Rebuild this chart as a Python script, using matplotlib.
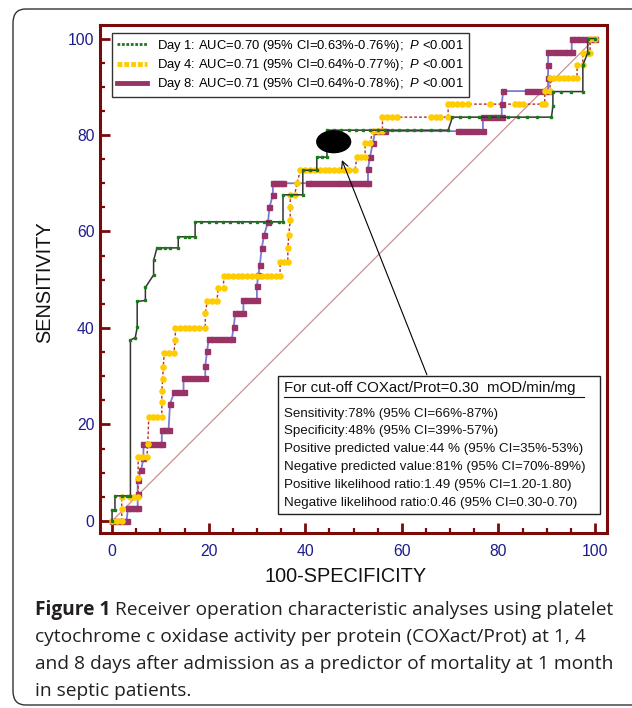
import matplotlib
matplotlib.use("Agg")
import matplotlib.pyplot as plt
from matplotlib.lines import Line2D
from matplotlib.patches import Ellipse, FancyBboxPatch, Rectangle

plt.rcParams['font.family'] = ['Liberation Sans', 'DejaVu Sans']
plt.rcParams['mathtext.fontset'] = 'custom'
plt.rcParams['mathtext.it'] = 'Liberation Sans:italic'
plt.rcParams['mathtext.rm'] = 'Liberation Sans'

# ---------------- data (100-specificity, sensitivity) ----------------
fpr1 = [0, 0, 0.6, 0.6, 2, 3, 3.8, 3.8, 4.8, 5.2, 5.2, 6.9, 6.9, 8.6, 8.6, 9.3,
        10, 11, 12, 13.7, 13.7, 15, 16, 17.2, 17.2, 18.5, 20, 21.5, 23, 24.5, 26,
        27, 28.5, 30, 31.5, 33, 34.5, 35.4, 35.4, 37, 39.5, 39.5, 41, 42.4, 42.4,
        43.5, 44.5, 44.5, 46, 47.5, 49, 50.5, 52, 53.5, 55, 56.5, 58, 59.5, 61,
        62.5, 64, 66, 68, 69.6, 70.5, 72, 74, 76, 78, 80, 82, 84, 86, 88, 91,
        91.3, 91.3, 93, 95, 97.5, 97.5, 98.5, 98.5, 100]
tpr1 = [0, 2.3, 2.3, 5.2, 5.2, 5.2, 5.2, 37.5, 38, 40.1, 45.5, 45.7, 48.4, 51, 54, 56.6,
        56.6, 56.6, 56.6, 56.6, 58.9, 58.9, 58.9, 58.9, 62, 62, 62, 62, 62, 62, 62,
        62, 62, 62, 62, 62, 62, 62, 67.6, 67.6, 67.6, 72.7, 72.7, 72.7, 75.4,
        75.4, 75.4, 81, 81, 81, 81, 81, 81, 81, 81, 81, 81, 81, 81,
        81, 81, 81, 81, 81, 83.7, 83.7, 83.7, 83.7, 83.7, 83.7, 83.7, 83.7, 83.7, 83.7, 83.7,
        86, 89, 89, 89, 89, 94.5, 97, 100, 100]

fpr4 = [0, 1, 2, 2, 2, 3.7, 4.5, 5.4, 5.4, 5.4, 6.2, 7.2, 7.4, 7.6, 8.5, 9.4, 10.3,
        10.3, 10.3, 10.5, 10.6, 10.8, 11.8, 12.8, 13.1, 13.1, 14, 15, 16, 17, 18,
        19.3, 19.3, 19.7, 20.7, 21.7, 22, 23.1, 23.1, 24, 25, 26, 27, 28, 29, 30,
        31, 32, 33, 34, 34.8, 34.8, 35.6, 36.4, 36.4, 36.6, 36.9, 36.9, 36.9, 37.8,
        38.3, 39, 40, 41, 42, 43, 44, 45, 46, 47, 48, 49, 50.3, 50.7, 51.5, 52.4,
        52.4, 53.4, 54, 55, 56, 56, 57, 58, 59, 66, 67, 68, 69.6, 69.6, 70.5, 71.5,
        72.5, 73.7, 78.3, 83.4, 84.2, 85.1, 89, 89.6, 89.6, 90.7, 90.7, 91.5, 92.5,
        93.5, 94.5, 95.5, 96.3, 96.3, 97.5, 97.5, 98.5, 99, 99, 100]
tpr4 = [0, 0, 0, 2.5, 5, 5, 5, 5, 9, 13.2, 13.2, 13.2, 16, 21.5, 21.5, 21.5, 21.5,
        24.6, 27, 29.5, 32, 34.8, 34.8, 34.8, 37.5, 40, 40, 40, 40, 40, 40,
        40, 43, 45.5, 45.5, 45.5, 48.3, 48.3, 50.8, 50.8, 50.8, 50.8, 50.8, 50.8, 50.8, 50.8,
        50.8, 50.8, 50.8, 50.8, 50.8, 53.6, 53.6, 53.6, 56.5, 59.3, 62.4, 65, 67.5, 67.5,
        70, 72.7, 72.7, 72.7, 72.7, 72.7, 72.7, 72.7, 72.7, 72.7, 72.7, 72.7, 72.7, 75.4, 75.4, 75.4,
        78.3, 78.3, 80.8, 80.8, 80.8, 83.7, 83.7, 83.7, 83.7, 83.7, 83.7, 83.7, 83.7, 86.4, 86.4, 86.4,
        86.4, 86.4, 86.4, 86.4, 86.4, 86.4, 86.4, 86.4, 89.1, 89.1, 91.8, 91.8, 91.8,
        91.8, 91.8, 91.8, 91.8, 94.5, 94.5, 97, 97, 97, 100, 100]

fpr8 = [0, 1, 2, 3, 3.3, 4, 4.7, 5.3, 5.3, 5.3, 6, 6.5, 6.5, 7.5, 8.5, 9.5, 10.3,
        10.3, 11, 11.7, 12, 12.9, 13.8, 14.8, 14.8, 16, 17, 18, 19.3, 19.3, 19.7,
        20, 21, 22, 23, 24, 24.8, 25.2, 25.5, 26.3, 27.2, 27.2, 28, 29, 30, 30,
        30.3, 30.6, 31, 31.5, 32.3, 32.6, 33.3, 33.3, 34, 34.7, 35.4, 40.6, 41.5,
        42.5, 43.5, 44.5, 45.5, 46.5, 47.5, 48.5, 49.5, 50.5, 51.5, 52.5, 53, 53,
        53.4, 54, 54.5, 55.5, 56.5, 71.6, 72.5, 73.5, 74.5, 75.5, 76.8, 76.8, 77.8,
        78.8, 79.8, 80.7, 80.7, 81, 86, 87, 88, 89.2, 90.3, 90.3, 90.3, 90.3, 91.5,
        92.5, 93.5, 94.5, 95.2, 95.2, 96, 97, 98, 99, 100]
tpr8 = [0, 0, 0, 0, 2.7, 2.7, 2.7, 2.7, 5.5, 8.4, 10.5, 13, 16, 16, 16, 16, 16,
        18.8, 18.8, 18.8, 24.3, 26.7, 26.7, 26.7, 29.7, 29.7, 29.7, 29.7, 29.7, 32.2, 35.3,
        37.7, 37.7, 37.7, 37.7, 37.7, 37.7, 40.3, 43, 43, 43, 45.7, 45.7, 45.7, 45.7, 48.8,
        51, 53, 56.6, 59.3, 62, 65, 67.6, 70, 70, 70, 70, 70, 70,
        70, 70, 70, 70, 70, 70, 70, 70, 70, 70, 70, 70, 73,
        75.4, 78.3, 80.8, 80.8, 80.8, 80.8, 80.8, 80.8, 80.8, 80.8, 80.8, 83.7, 83.7,
        83.7, 83.7, 83.7, 86.4, 89.1, 89.1, 89.1, 89.1, 89.1, 89.1, 91.8, 94.5, 97.2, 97.2,
        97.2, 97.2, 97.2, 97.2, 100, 100, 100, 100, 100, 100]

legend_labels = [
    "Day 1: AUC=0.70 (95% CI=0.63%-0.76%);  $\\mathit{P}$ <0.001",
    "Day 4: AUC=0.71 (95% CI=0.64%-0.77%);  $\\mathit{P}$ <0.001",
    "Day 8: AUC=0.71 (95% CI=0.64%-0.78%);  $\\mathit{P}$ <0.001",
]
box_title = "For cut-off COXact/Prot=0.30  mOD/min/mg"
box_lines = [
    "Sensitivity:78% (95% CI=66%-87%)",
    "Specificity:48% (95% CI=39%-57%)",
    "Positive predicted value:44 % (95% CI=35%-53%)",
    "Negative predicted value:81% (95% CI=70%-89%)",
    "Positive likelihood ratio:1.49 (95% CI=1.20-1.80)",
    "Negative likelihood ratio:0.46 (95% CI=0.30-0.70)",
]
cutoff_point = (45.9, 78.6)
ticks = [0, 20, 40, 60, 80, 100]

# ---------------- figure ----------------
W, H = 632, 708
fig = plt.figure(figsize=(W / 100, H / 100), dpi=100)

def fx(px):
    return px / W

def fy(py):
    return 1 - py / H

# rounded outer border
border = FancyBboxPatch((fx(13), fy(705)), fx(660) - fx(13), fy(9) - fy(705),
                        boxstyle="round,pad=0,rounding_size=0.02",
                        transform=fig.transFigure, fill=False,
                        edgecolor='#333333', linewidth=1.0, clip_on=False)
fig.patches.append(border)

ax = fig.add_axes([fx(100), fy(533), fx(607) - fx(100), fy(25) - fy(533)])
ax.set_xlim(-2.5, 102.5)
ax.set_ylim(-2.5, 102.8)

spine_col = '#7a0a0a'
for s in ax.spines.values():
    s.set_color(spine_col)
    s.set_linewidth(2.2)

ax.set_xticks(ticks)
ax.set_yticks(ticks)
ax.set_xticks(list(range(0, 101, 5)), minor=True)
ax.set_yticks(list(range(0, 101, 5)), minor=True)
ax.tick_params(which='major', direction='in', length=7, width=2.0, color=spine_col,
               labelsize=11.3, labelcolor='#1c1c8c')
ax.tick_params(which='minor', direction='in', length=3.6, width=1.6, color=spine_col)
ax.tick_params(axis='x', which='major', pad=8)
ax.tick_params(axis='y', which='major', pad=4)

# diagonal reference
ax.plot([0, 100], [0, 100], color='#cf8f8f', lw=0.9, zorder=1)

# curves
ax.plot(fpr8, tpr8, color='#7a7ad8', lw=1.3, marker='s', ms=3.6,
        mfc='#993366', mec='#993366', zorder=3)
ax.plot(fpr4, tpr4, color='#b03030', lw=1.0, ls=(0, (2, 1.5)), marker='o', ms=3.7,
        mfc='#ffcc00', mec='#ffcc00', zorder=4)
ax.plot(fpr1, tpr1, color='#333333', lw=1.1, marker='s', ms=1.8,
        mfc='#1a7a1a', mec='#1a7a1a', zorder=5)

# cut-off ellipse and arrow
ax.add_patch(Ellipse(cutoff_point, 7.0, 4.5, color='black', zorder=6))
ax.annotate('', xy=(47.6, 74.8), xytext=(65.2, 30.3),
            arrowprops=dict(arrowstyle='->', color='black', lw=0.8,
                            shrinkA=0, shrinkB=0, mutation_scale=12), zorder=6)

# legend
handles = [
    Line2D([], [], color='#1a7a1a', lw=2.0, ls=(0, (1, 0.6))),
    Line2D([], [], color='#ffcc00', lw=3.5, ls=(0, (1, 0.4))),
    Line2D([], [], color='#993366', lw=3.5),
]
leg = ax.legend(handles, legend_labels, loc='upper left',
                bbox_to_anchor=((112 - 100) / 507, (533 - 33) / 508),
                fontsize=9.4, frameon=True, fancybox=False, framealpha=1,
                edgecolor='#333333', borderpad=0.38, labelspacing=0.25,
                handlelength=2.3, handletextpad=0.8, borderaxespad=0)
leg.get_frame().set_linewidth(1.0)
leg.set_zorder(10)

# annotation box
bx0, bx1 = (278 - 112) / 4.83, (600 - 112) / 4.83
by0, by1 = (521 - 514) / 4.825, (521 - 376) / 4.825
ax.add_patch(Rectangle((bx0, by0), bx1 - bx0, by1 - by0, facecolor='white',
                       edgecolor='#222222', lw=1.0, zorder=7))
fig.text(fx(284), fy(388), box_title, fontsize=10.8, va='center', ha='left',
         color='#111111', zorder=8)
fig.add_artist(Line2D([fx(284), fx(584)], [fy(397), fy(397)], color='#111111', lw=0.8))
line_y = [414, 431, 449, 467, 485, 503]
for t, yy in zip(box_lines, line_y):
    fig.text(fx(284), fy(yy), t, fontsize=9.6, va='center', ha='left', color='#111111')

# axis labels
fig.text(fx(346), fy(577), "100-SPECIFICITY", fontsize=14.3, ha='center', va='center',
         color='#111111')
fig.text(fx(45), fy(282), "SENSITIVITY", fontsize=14.3, ha='center', va='center',
         rotation=90, color='#111111')

# caption
cap_font = ['Open Sans', 'DejaVu Sans']
cap_col = '#231f20'
cap_size = 13.8
cap_lines = [
    "Receiver operation characteristic analyses using platelet",
    "cytochrome c oxidase activity per protein (COXact/Prot) at 1, 4",
    "and 8 days after admission as a predictor of mortality at 1 month",
    "in septic patients.",
]
cap_y = [610, 637, 664, 691]
t0 = fig.text(fx(35), fy(cap_y[0]), "Figure 1", fontsize=cap_size, fontweight='bold',
              family=cap_font, va='center', ha='left', color=cap_col)
fig.canvas.draw()
bb = t0.get_window_extent()
fig.text(bb.x1 / W + fx(5), fy(cap_y[0]), cap_lines[0], fontsize=cap_size, family=cap_font,
         va='center', ha='left', color=cap_col)
for t, yy in zip(cap_lines[1:], cap_y[1:]):
    fig.text(fx(35), fy(yy), t, fontsize=cap_size, family=cap_font, va='center', ha='left',
             color=cap_col)

fig.savefig('out.png', dpi=100)
